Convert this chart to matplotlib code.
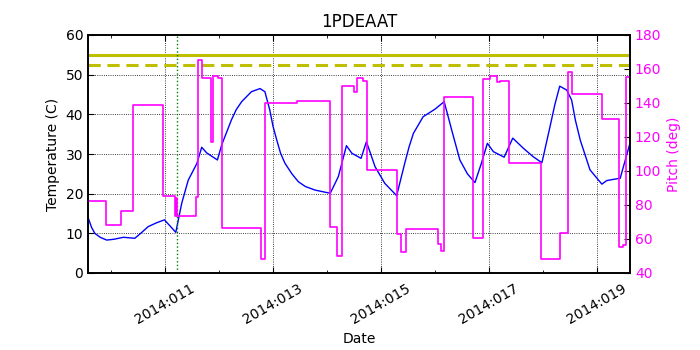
import matplotlib
matplotlib.use("Agg")
import matplotlib.pyplot as plt
from matplotlib.ticker import MultipleLocator

# x values are day-of-year 2014 (2014:011 -> 11.0)
temp_days = [9.58, 9.64, 9.70, 9.80, 9.92, 10.05, 10.23, 10.44, 10.55, 10.69,
             10.85, 10.99, 11.20, 11.31, 11.43, 11.59, 11.68, 11.77, 11.97, 12.05,
             12.15, 12.23, 12.32, 12.42, 12.60, 12.76, 12.85, 12.94, 13.00, 13.07,
             13.14, 13.22, 13.35, 13.47, 13.60, 13.78, 14.06, 14.21, 14.36, 14.46,
             14.63, 14.73, 14.89, 15.07, 15.29, 15.44, 15.52, 15.60, 15.78, 16.00,
             16.17, 16.31, 16.46, 16.60, 16.74, 16.86, 16.97, 17.08, 17.28, 17.44,
             17.64, 17.82, 17.98, 18.13, 18.22, 18.31, 18.44, 18.53, 18.60, 18.69,
             18.87, 19.09, 19.18, 19.43, 19.61]
temp_vals = [13.8, 11.5, 10.0, 9.0, 8.3, 8.5, 9.0, 8.75, 10.0, 11.7,
             12.7, 13.4, 10.25, 17.6, 23.4, 27.6, 31.7, 30.3, 28.5, 32.3,
             35.8, 38.6, 41.2, 43.2, 45.7, 46.5, 45.7, 41.1, 37.0, 33.5,
             30.2, 27.7, 25.0, 23.0, 21.8, 20.9, 20.1, 24.3, 32.1, 30.2,
             28.9, 33.1, 26.8, 22.6, 19.5, 27.7, 31.8, 35.2, 39.4, 41.3,
             43.2, 36.0, 28.5, 25.0, 22.8, 27.7, 32.7, 30.6, 29.2, 34.0,
             31.4, 29.3, 27.8, 36.9, 42.5, 47.1, 46.1, 43.6, 38.5, 33.5,
             26.0, 22.4, 23.3, 23.9, 32.7]

pitch_days = [9.574, 9.902, 10.185, 10.407, 10.969, 11.185, 11.20, 11.215, 11.574,
              11.615, 11.69, 11.852, 11.88, 11.987, 12.05, 12.772, 12.852, 13.45,
              14.056, 14.19, 14.272, 14.506, 14.55, 14.672, 14.746, 15.29, 15.365,
              15.463, 16.061, 16.111, 16.172, 16.709, 16.894, 17.019, 17.154, 17.204,
              17.376, 17.963, 18.315, 18.457, 18.531, 19.098, 19.413, 19.476, 19.537,
              19.611]
pitch_vals = [82.4, 68.2, 76.4, 138.7, 85.3, 73.6, 84.0, 73.6, 84.5,
              165.3, 154.5, 117.3, 156.1, 154.5, 66.7, 48.2, 139.8, 141.2,
              67.2, 50.0, 150.2, 146.3, 154.9, 152.9, 100.4, 62.9, 52.2,
              65.7, 57.1, 53.1, 143.4, 60.4, 154.1, 155.9, 152.2, 153.1,
              104.5, 48.2, 63.3, 158.4, 145.3, 130.4, 55.1, 56.5, 155.5,
              155.5]

planning_limit = 55.0
caution_limit = 52.5
now_day = 11.22

tick_days = [11, 13, 15, 17, 19]
tick_labels = ["2014:011", "2014:013", "2014:015", "2014:017", "2014:019"]

plt.rcParams["font.family"] = "DejaVu Sans"
plt.rcParams["font.size"] = 10
plt.rcParams["xtick.direction"] = "in"
plt.rcParams["ytick.direction"] = "in"

fig = plt.figure(figsize=(7, 3.5), dpi=100)
fig.patch.set_facecolor("white")
ax = fig.add_axes([88 / 700, 77 / 350, 542 / 700, 238 / 350])

ax.plot(temp_days, temp_vals, color="blue", lw=1)
ax.axhline(planning_limit, color=(0.75, 0.75, 0), lw=2.2)
ax.axhline(caution_limit, color=(0.75, 0.75, 0), lw=2.2, ls="--", dashes=(4, 2.2))
ax.axvline(now_day, color="green", lw=1, ls=":")

ax.set_xlim(9.574, 19.611)
ax.set_ylim(0, 60)
ax.set_xticks(tick_days)
ax.set_xticklabels(tick_labels, rotation=30, ha="center")
ax.xaxis.set_minor_locator(MultipleLocator(1))
ax.tick_params(axis="x", which="both", top=True, length=4, pad=6)
ax.tick_params(axis="x", which="minor", length=2)
ax.tick_params(axis="y", length=4)
ax.grid(True, which="major", color="black", ls=":", lw=0.6)
ax.set_xlabel("Date", labelpad=4)
ax.set_ylabel("Temperature (C)")
ax.set_title("1PDEAAT", fontsize=12)

ax2 = ax.twinx()
ax2.plot(pitch_days, pitch_vals, color="#ff00ff", lw=1.2, drawstyle="steps-post")
ax2.set_ylim(40, 180)
ax2.set_yticks(range(40, 181, 20))
ax2.tick_params(axis="y", colors="black", labelcolor="#ff00ff", length=4)
ax2.set_ylabel("Pitch (deg)", color="#ff00ff")
ax2.set_xlim(9.574, 19.611)

for a in (ax, ax2):
    for s in a.spines.values():
        s.set_linewidth(1.2)

fig.savefig("out.png", dpi=100, facecolor="white")
